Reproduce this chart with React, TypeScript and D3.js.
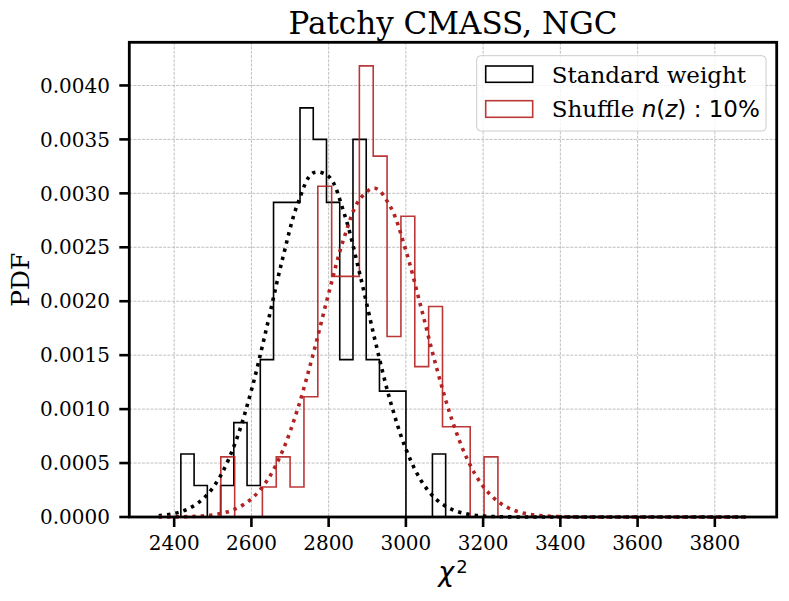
import React from 'react';
import * as d3 from 'd3';

// histogram counts (100 mocks each, 20 bins between min and max)
const blackRange = [2417.3, 3103.0];
const blackCounts = [2, 1, 0, 1, 3, 1, 5, 10, 10, 13, 12, 10, 5, 12, 5, 4, 4, 0, 0, 2];
const redRange = [2520.8, 3238.3];
const redCounts = [2, 0, 0, 1, 2, 1, 4, 11, 8, 8, 15, 12, 6, 10, 5, 7, 3, 3, 0, 2];
const nMocks = 100;

// fitted gaussian curves
const curveX = [
  2360, 2400, 2440, 2480, 2520, 2560, 2600, 2640, 2680, 2720, 2760, 2800, 2840,
  2880, 2920, 2960, 3000, 3040, 3080, 3120, 3160, 3200, 3240, 3280, 3320, 3360,
  3400, 3440, 3480, 3520, 3560, 3600, 3640, 3680, 3720, 3760, 3800, 3840, 3880,
];
const blackFit = [
  0.0000116, 0.0000324, 0.0000819, 0.000186, 0.000382, 0.000706, 0.001175, 0.001763,
  0.002384, 0.002905, 0.00319, 0.003157, 0.002816, 0.002263, 0.00164, 0.00107,
  0.00063, 0.000334, 0.000159, 0.0000686, 0.0000266, 0.0000093, 0.0000029, 0.0000008,
  0.0000002, 0, 0, 0, 0, 0, 0, 0, 0, 0, 0, 0, 0, 0, 0,
];
const redFit = [
  0.0000004, 0.0000013, 0.0000042, 0.0000121, 0.0000319, 0.0000767, 0.000168, 0.000335,
  0.000607, 0.001004, 0.001512, 0.002072, 0.002588, 0.002943, 0.003048, 0.002875,
  0.00247, 0.001932, 0.001376, 0.000893, 0.000528, 0.000284, 0.000139, 0.0000622,
  0.0000253, 0.0000094, 0.0000031, 0.000001, 0.0000003, 0.0000001, 0, 0, 0, 0, 0, 0, 0, 0, 0,
];

const xTicks = [2400, 2600, 2800, 3000, 3200, 3400, 3600, 3800];
const yTicks = [0, 0.0005, 0.001, 0.0015, 0.002, 0.0025, 0.003, 0.0035, 0.004];

const W = 789;
const H = 601;
const left = 129.3;
const right = 776.7;
const top = 42.3;
const bottom = 517;

const serif = '"DejaVu Serif", serif';
const sans = '"DejaVu Sans", sans-serif';
const red = '#b22222';

function stepPath(range: number[], counts: number[], x: d3.ScaleLinear<number, number>, y: d3.ScaleLinear<number, number>) {
  const width = (range[1] - range[0]) / counts.length;
  const pts: [number, number][] = [[range[0], 0]];
  counts.forEach((c, i) => {
    const h = c / (nMocks * width);
    pts.push([range[0] + i * width, h]);
    pts.push([range[0] + (i + 1) * width, h]);
  });
  pts.push([range[1], 0]);
  return d3.line<[number, number]>()
    .x((d) => x(d[0]))
    .y((d) => y(d[1]))(pts) || '';
}

const App: React.FC = () => {
  const x = d3.scaleLinear().domain([2283.8, 3960.2]).range([left, right]);
  const y = d3.scaleLinear().domain([0, 0.0044]).range([bottom, top]);

  const fitLine = (vals: number[]) =>
    d3.line<number>()
      .x((_, i) => x(curveX[i]))
      .y((d) => y(d))
      .curve(d3.curveCatmullRom)(vals) || '';

  return (
    <div style={{ position: 'absolute', left: 0, top: 0 }}>
      <svg width={W} height={H} style={{ display: 'block', background: '#fff' }}>
        {/* grid */}
        <g stroke="#b0b0b0" strokeWidth={0.8} strokeDasharray="2.96 1.28">
          {xTicks.map((t) => (
            <line key={'gx' + t} x1={x(t)} x2={x(t)} y1={top} y2={bottom} />
          ))}
          {yTicks.map((t) => (
            <line key={'gy' + t} x1={left} x2={right} y1={y(t)} y2={y(t)} />
          ))}
        </g>

        {/* histograms */}
        <path d={stepPath(blackRange, blackCounts, x, y)} fill="none" stroke="#000" strokeWidth={1.6} />
        <path d={stepPath(redRange, redCounts, x, y)} fill="none" stroke={red} strokeWidth={1.6} strokeOpacity={0.9} />

        {/* gaussian fits */}
        <path d={fitLine(blackFit)} fill="none" stroke="#000" strokeWidth={3.6} strokeDasharray="3.4 5" />
        <path d={fitLine(redFit)} fill="none" stroke={red} strokeWidth={3.6} strokeDasharray="3.4 5" />

        {/* spines */}
        <rect x={left} y={top} width={right - left} height={bottom - top} fill="none" stroke="#000" strokeWidth={2.8} />

        {/* x ticks */}
        {xTicks.map((t) => (
          <g key={'xt' + t}>
            <line x1={x(t)} x2={x(t)} y1={bottom} y2={bottom + 10} stroke="#000" strokeWidth={2.6} />
            <text x={x(t)} y={550.3} textAnchor="middle" fontFamily={serif} fontSize={20}>
              {t}
            </text>
          </g>
        ))}
        {/* y ticks */}
        {yTicks.map((t) => (
          <g key={'yt' + t}>
            <line x1={left - 10} x2={left} y1={y(t)} y2={y(t)} stroke="#000" strokeWidth={2.6} />
            <text x={110} y={y(t)} dy="0.36em" textAnchor="end" fontFamily={serif} fontSize={20}>
              {t.toFixed(4)}
            </text>
          </g>
        ))}

        {/* labels */}
        <text x={(left + right) / 2} y={34} textAnchor="middle" fontFamily={serif} fontSize={31}>
          Patchy CMASS, NGC
        </text>
        <text
          transform={`translate(29.3,${(top + bottom) / 2}) rotate(-90)`}
          textAnchor="middle"
          fontFamily={serif}
          fontSize={25}
        >
          PDF
        </text>
        <text x={(left + right) / 2} y={581} textAnchor="middle" fontFamily={sans} fontSize={27}>
          <tspan fontStyle="italic">χ</tspan>
          <tspan fontSize={18} dx={2} dy={-8}>2</tspan>
        </text>

        {/* legend */}
        <rect x={476.7} y={55.7} width={289.3} height={75.3} rx={4} fill="#fff" fillOpacity={0.8} stroke="#cccccc" strokeWidth={1} />
        <rect x={485.7} y={66} width={47} height={16.3} fill="none" stroke="#000" strokeWidth={1.6} />
        <rect x={485.7} y={100.7} width={47} height={16.6} fill="none" stroke={red} strokeWidth={1.6} strokeOpacity={0.9} />
        <text x={551.7} y={82.5} fontFamily={serif} fontSize={23}>
          Standard weight
        </text>
        <text x={551.7} y={117} fontFamily={serif} fontSize={23}>
          Shuffle{' '}
          <tspan fontFamily={sans} fontStyle="italic">n</tspan>
          <tspan fontFamily={sans}>(</tspan>
          <tspan fontFamily={sans} fontStyle="italic">z</tspan>
          <tspan fontFamily={sans}>) : 10%</tspan>
        </text>
      </svg>
    </div>
  );
};

export default App;
